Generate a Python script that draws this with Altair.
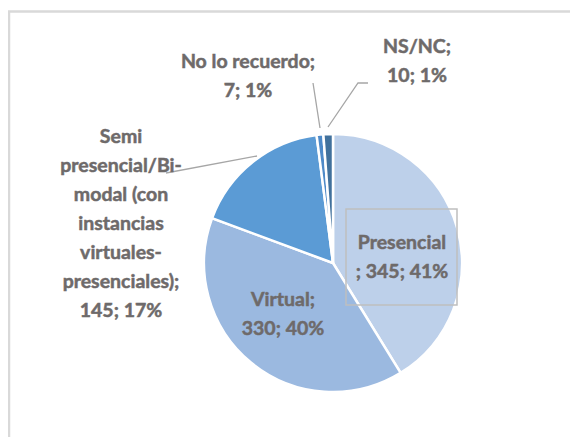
import altair as alt
import pandas as pd

# ---- data ----
categories = ["Presencial", "Virtual",
              "Semi presencial/Bi-modal (con instancias virtuales-presenciales)",
              "No lo recuerdo", "NS/NC"]
values = [345, 330, 145, 7, 10]
percents = [41, 40, 17, 1, 1]
label_text = [
    "Presencial\n; 345; 41%",
    "Virtual;\n330; 40%",
    "Semi\npresencial/Bi-\nmodal (con\ninstancias\nvirtuales-\npresenciales);\n145; 17%",
    "No lo recuerdo;\n7; 1%",
    "NS/NC;\n10; 1%",
]
colors = ["#BDD0EA", "#9BB9E0", "#5B9BD5", "#4E8AC8", "#41719C"]

# ---- layout (pixels) ----
W, H = 562, 429
CX, CY, R = 325, 255, 129
label_x = [394, 275, 113, 240, 409]
label_y = [235, 292, 129, 54, 39]   # first-line centres
TEXT_COLOR = "#6E6A6A"
FONT = "Lato"

pie_df = pd.DataFrame({"category": categories, "value": values,
                       "order": list(range(len(categories)))})
lab_df = pd.DataFrame({"label": label_text, "x": label_x, "y": label_y})

pie = alt.Chart(pie_df).mark_arc(outerRadius=R, stroke="white", strokeWidth=2.5).encode(
    theta=alt.Theta("value:Q", stack=True),
    order=alt.Order("order:Q"),
    color=alt.Color("category:N", scale=alt.Scale(domain=categories, range=colors), legend=None),
    x=alt.value(CX), y=alt.value(CY),
)

labels = alt.Chart(lab_df).mark_text(
    font=FONT, fontWeight="bold", fontSize=19.5, color=TEXT_COLOR,
    stroke=TEXT_COLOR, strokeWidth=0.5,
    lineBreak="\n", lineHeight=29, align="center", baseline="middle",
).encode(
    x=alt.X("x:Q", scale=None), y=alt.Y("y:Q", scale=None), text="label:N"
)

# leader lines
lead_df = pd.DataFrame({
    "seg": ["a", "a", "b", "b", "b", "c", "c"],
    "i": [0, 1, 0, 1, 2, 0, 1],
    "x": [305, 312, 360, 350, 320, 158, 249],
    "y": [75, 120, 75, 75, 119, 165, 148],
})
leaders = alt.Chart(lead_df).mark_line(color="#A6A6A6", strokeWidth=1.3).encode(
    x=alt.X("x:Q", scale=None), y=alt.Y("y:Q", scale=None),
    detail="seg:N", order="i:Q",
)

# box around Presencial label
box_df = pd.DataFrame({"x": [338], "x2": [449], "y": [201], "y2": [297]})
box = alt.Chart(box_df).mark_rect(fill=None, stroke="#BFBFBF", strokeWidth=1.5).encode(
    x=alt.X("x:Q", scale=None), x2="x2:Q", y=alt.Y("y:Q", scale=None), y2="y2:Q"
)

# chart frame (top and left border)
frame_df = pd.DataFrame({"seg": ["t", "t", "l", "l"], "i": [0, 1, 0, 1],
                         "x": [0, W, 1, 1], "y": [3.5, 3.5, 3.5, H]})
frame = alt.Chart(frame_df).mark_line(color="#D9D9D9", strokeWidth=2.5).encode(
    x=alt.X("x:Q", scale=None), y=alt.Y("y:Q", scale=None),
    detail="seg:N", order="i:Q",
)

chart = alt.layer(frame, pie, box, leaders, labels).properties(
    width=W, height=H, padding=0, autosize="none", background="white"
).configure_view(stroke=None)

chart.save("out.html", embed_options={"renderer": "svg", "actions": False})
